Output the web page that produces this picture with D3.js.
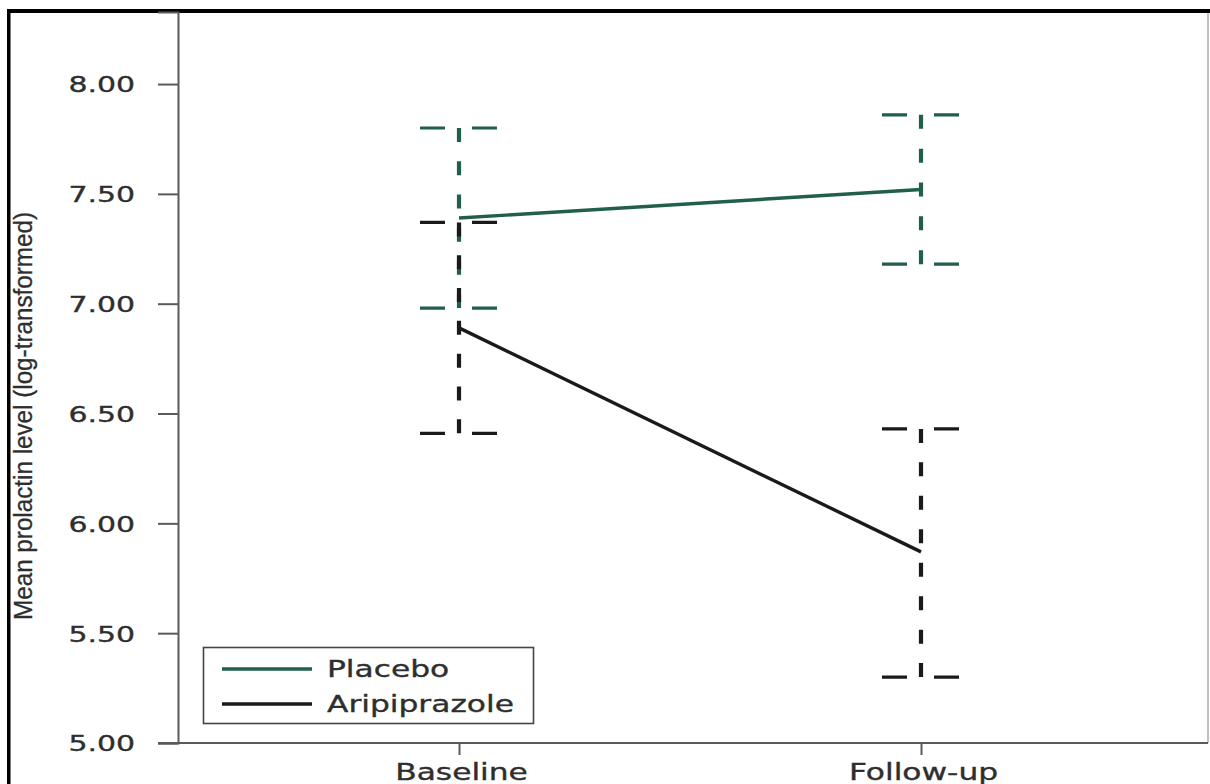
<!DOCTYPE html>
<html>
<head>
<meta charset="utf-8">
<script src="https://cdn.jsdelivr.net/npm/d3@7"></script>
<style>
  html, body { margin: 0; padding: 0; background: #fff; }
  svg { display: block; }
</style>
</head>
<body>
<svg id="chart" width="1210" height="784"></svg>
<script>
// ---- data ----
const categories = ["Baseline", "Follow-up"];
const seriesNames = ["Placebo", "Aripiprazole"];
const placeboMean  = [7.39, 7.52];
const placeboLower = [6.98, 7.18];
const placeboUpper = [7.80, 7.86];
const aripMean  = [6.89, 5.87];
const aripLower = [6.41, 5.30];
const aripUpper = [7.37, 6.43];
const yTicks = [5.00, 5.50, 6.00, 6.50, 7.00, 7.50, 8.00];
const yTitle = "Mean prolactin level (log-transformed)";

// ---- styling ----
const colors = { "Placebo": "#1f5f4b", "Aripiprazole": "#1a1a1a" };
const axisColor = "#5a5a5a";
const textColor = "#2e2e2e";
const SX = 1.36; // horizontal stretch of text seen in the reference

const svg = d3.select("#chart");

const x = d3.scalePoint().domain(categories).range([459, 921]);
const y = d3.scaleLinear().domain([5, 8.328]).range([743, 12]);

// outer frame (black top/left bars, light right edge)
svg.append("rect").attr("x", 7).attr("y", 9).attr("width", 1203).attr("height", 4).attr("fill", "#000");
svg.append("rect").attr("x", 7).attr("y", 9).attr("width", 3.5).attr("height", 775).attr("fill", "#000");
svg.append("line").attr("x1", 1208).attr("x2", 1208).attr("y1", 13).attr("y2", 743)
  .attr("stroke", "#c0c0c0").attr("stroke-width", 2);

function stretchText(sel, anchor) {
  sel.each(function () {
    const t = d3.select(this);
    const w = this.getComputedTextLength();
    const W = w * SX;
    const x0 = +t.attr("x") || 0;
    t.attr("text-anchor", "start")
     .attr("textLength", W)
     .attr("lengthAdjust", "spacingAndGlyphs");
    if (anchor === "end") t.attr("x", x0 - W);
    else if (anchor === "middle") t.attr("x", x0 - W / 2);
  });
}

// y axis
const yAxis = svg.append("g").attr("transform", "translate(178,0)")
  .call(d3.axisLeft(y).tickValues(yTicks).tickFormat(d3.format(".2f")).tickSize(20).tickPadding(23));
yAxis.select(".domain").attr("stroke", axisColor).attr("stroke-width", 2);
yAxis.selectAll(".tick line").attr("stroke", axisColor).attr("stroke-width", 2);
yAxis.selectAll(".tick text")
  .attr("font-family", "DejaVu Sans").attr("font-size", 22).attr("fill", textColor)
  .attr("stroke", textColor).attr("stroke-width", 0.35)
  .attr("dy", "0.36em");
stretchText(yAxis.selectAll(".tick text"), "end");

// x axis
svg.append("line").attr("x1", 158).attr("x2", 1208).attr("y1", 743).attr("y2", 743)
  .attr("stroke", axisColor).attr("stroke-width", 2);
const xAxis = svg.append("g").attr("transform", "translate(0,743)")
  .call(d3.axisBottom(x).tickSize(12).tickPadding(0));
xAxis.select(".domain").remove();
xAxis.selectAll(".tick line").attr("stroke", axisColor).attr("stroke-width", 2);
xAxis.selectAll(".tick text")
  .attr("font-family", "DejaVu Sans").attr("font-size", 23).attr("fill", textColor)
  .attr("stroke", textColor).attr("stroke-width", 0.35)
  .attr("y", 37).attr("dy", 0).attr("x", 2);
stretchText(xAxis.selectAll(".tick text"), "middle");

// y title
svg.append("text")
  .attr("transform", "translate(32,416) rotate(-90)")
  .attr("text-anchor", "middle")
  .attr("font-family", "Liberation Sans").attr("font-size", 26).attr("fill", textColor)
  .attr("stroke", textColor).attr("stroke-width", 0.3)
  .attr("textLength", 408).attr("lengthAdjust", "spacingAndGlyphs")
  .text(yTitle);

// series
const series = [
  { name: seriesNames[0], mean: placeboMean, lo: placeboLower, hi: placeboUpper },
  { name: seriesNames[1], mean: aripMean, lo: aripLower, hi: aripUpper }
];

const bars = [];
series.forEach(s => categories.forEach((c, i) => bars.push({ s: s.name, c, lo: s.lo[i], hi: s.hi[i] })));

const eb = svg.append("g");
eb.selectAll("line.v").data(bars).join("line").attr("class", "v")
  .attr("x1", d => x(d.c)).attr("x2", d => x(d.c))
  .attr("y1", d => y(d.hi)).attr("y2", d => y(d.lo))
  .attr("stroke", d => colors[d.s]).attr("stroke-width", 4.2)
  .attr("stroke-dasharray", d => {
    const L = y(d.lo) - y(d.hi);
    const dash = 14;
    const n = Math.max(1, Math.round((L - dash) / 33));
    const gap = (L - dash) / n - dash;
    return dash + "," + gap;
  });

const caps = [];
bars.forEach(b => { caps.push({ s: b.s, c: b.c, v: b.hi }); caps.push({ s: b.s, c: b.c, v: b.lo }); });
eb.selectAll("line.cap").data(caps).join("line").attr("class", "cap")
  .attr("x1", d => x(d.c) - 39).attr("x2", d => x(d.c) + 38)
  .attr("y1", d => y(d.v)).attr("y2", d => y(d.v))
  .attr("stroke", d => colors[d.s]).attr("stroke-width", 3.2)
  .attr("stroke-dasharray", "25,27");

const line = d3.line().x(d => x(d.c)).y(d => y(d.v));
series.forEach(s => {
  svg.append("path")
    .datum(categories.map((c, i) => ({ c, v: s.mean[i] })))
    .attr("d", line)
    .attr("fill", "none")
    .attr("stroke", colors[s.name])
    .attr("stroke-width", 3.4);
});

// legend
const lg = svg.append("g");
lg.append("rect").attr("x", 203.5).attr("y", 647.5).attr("width", 330).attr("height", 76)
  .attr("fill", "#fff").attr("stroke", "#444").attr("stroke-width", 1.6);
const legendY = [669, 704];
seriesNames.forEach((n, i) => {
  lg.append("line").attr("x1", 222).attr("x2", 312).attr("y1", legendY[i]).attr("y2", legendY[i])
    .attr("stroke", colors[n]).attr("stroke-width", 3.5);
  lg.append("text").attr("x", 327).attr("y", legendY[i] + 8)
    .attr("font-family", "DejaVu Sans").attr("font-size", 23).attr("fill", textColor)
    .attr("stroke", textColor).attr("stroke-width", 0.35)
    .text(n);
});
stretchText(lg.selectAll("text"), "start");
</script>
</body>
</html>
